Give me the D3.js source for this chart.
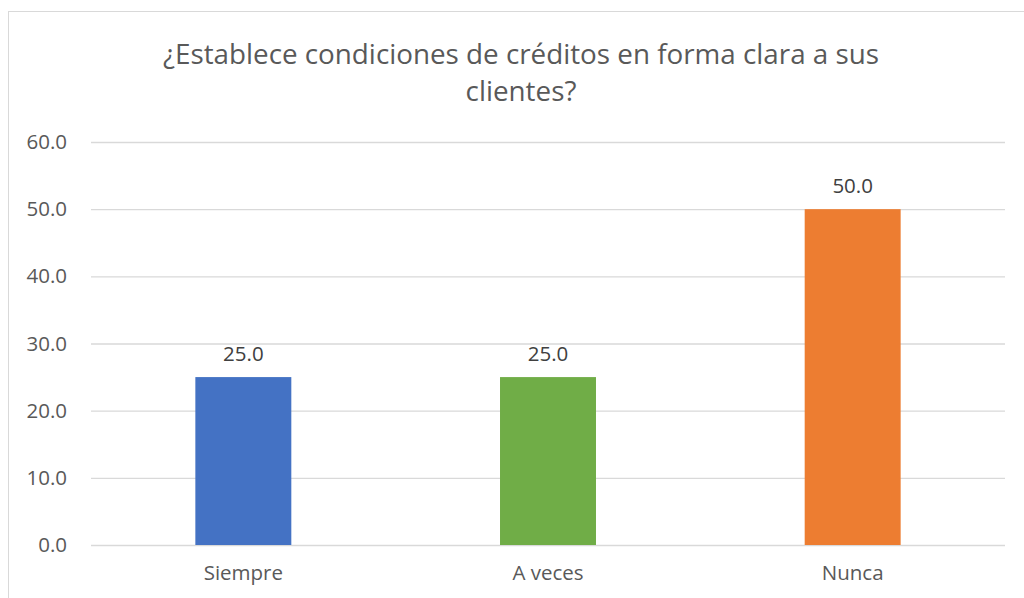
<!DOCTYPE html>
<html><head><meta charset="utf-8">
<script src="https://cdn.jsdelivr.net/npm/d3@7"></script>
<style>body{margin:0;background:#fff;overflow:hidden}</style>
</head><body>
<svg id="c" width="1024" height="598"></svg>
<script>
const categories = ["Siempre", "A veces", "Nunca"];
const values = [25.0, 25.0, 50.0];
const colors = ["#4472C4", "#70AD47", "#ED7D31"];
const yTicks = [0, 10, 20, 30, 40, 50, 60];
const titleLines = ["¿Establece condiciones de créditos en forma clara a sus", "clientes?"];

(function () {
const svg = d3.select("#c");
const font = "Open Sans, sans-serif";
const txt = "#595959";

svg.append("rect").attr("x", 8.5).attr("y", 11.5).attr("width", 1030).attr("height", 600)
  .attr("fill", "#fff").attr("stroke", "#D9D9D9").attr("stroke-width", 1);

const pLeft = 91, pRight = 1005, pTop = 142, pBottom = 545;
const y = d3.scaleLinear().domain([0, 60]).range([pBottom, pTop]);
const x = d3.scaleBand().domain(categories).range([pLeft, pRight]).padding(0);
const barW = x.bandwidth() * 0.315;

const yAxis = d3.axisLeft(y).tickValues(yTicks).tickFormat(d3.format(".1f"))
  .tickSize(-(pRight - pLeft)).tickPadding(24);
const g = svg.append("g").attr("transform", `translate(${pLeft},0)`).call(yAxis);
g.select(".domain").remove();
g.selectAll(".tick line").attr("stroke", "#D9D9D9").attr("stroke-width", 1.3);
g.selectAll(".tick text").attr("fill", txt).style("font-family", font).style("font-size", "20.5px");

svg.selectAll(".bar").data(values).join("rect")
  .attr("x", (d, i) => x(categories[i]) + x.bandwidth() / 2 - barW / 2)
  .attr("y", d => y(d)).attr("width", barW).attr("height", d => pBottom - y(d))
  .attr("fill", (d, i) => colors[i]);

svg.selectAll(".lbl").data(values).join("text")
  .attr("x", (d, i) => x(categories[i]) + x.bandwidth() / 2)
  .attr("y", d => y(d) - 16).attr("text-anchor", "middle")
  .attr("fill", "#404040").style("font-family", font).style("font-size", "20.5px")
  .text(d => d3.format(".1f")(d));

const xAxis = d3.axisBottom(x).tickSize(0).tickPadding(20);
const gx = svg.append("g").attr("transform", `translate(0,${pBottom})`).call(xAxis);
gx.select(".domain").remove();
gx.selectAll(".tick text").attr("fill", txt).style("font-family", font).style("font-size", "20.5px");

svg.selectAll(".title").data(titleLines).join("text")
  .attr("x", 521).attr("y", (d, i) => 64 + i * 37).attr("text-anchor", "middle")
  .attr("fill", txt).style("font-family", font).style("font-size", "27.8px")
  .text(d => d);
})();
</script>
</body></html>
